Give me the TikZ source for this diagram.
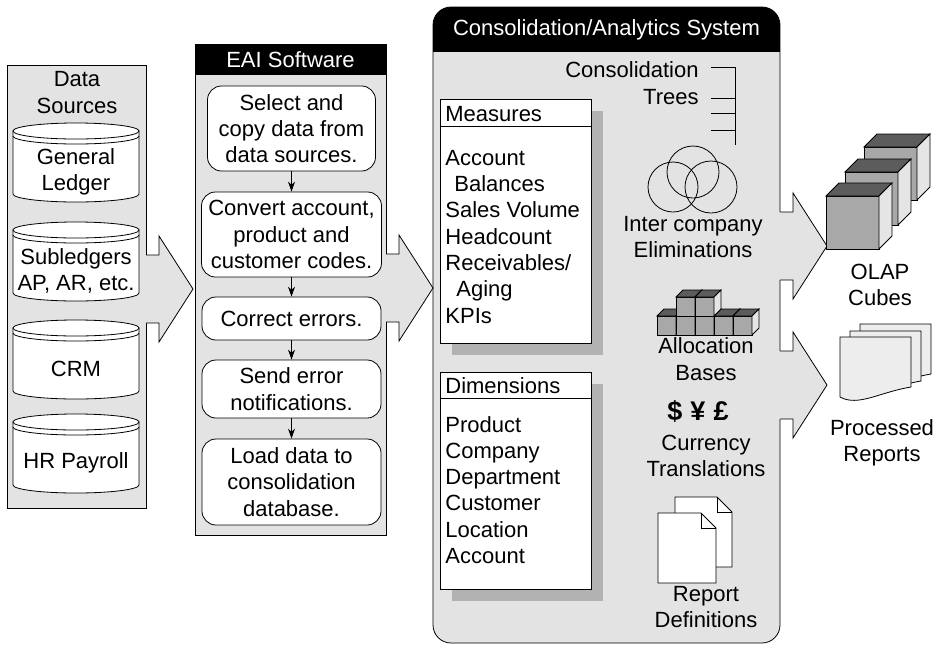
\documentclass[tikz,border=0pt]{standalone}
\usepackage{fontspec}
\setmainfont{Liberation Sans}
\usetikzlibrary{positioning,shadows,arrows.meta}

\definecolor{panelgray}{gray}{0.89}
\definecolor{shadowgray}{gray}{0.70}
\definecolor{cubefront}{gray}{0.66}
\definecolor{cubetop}{gray}{0.36}
\definecolor{cubeside}{gray}{0.90}
\definecolor{pagegray}{gray}{0.93}

\begin{document}
\begin{tikzpicture}[x=1pt, y=-1pt, line width=0.8pt,
  every node/.style={font=\fontsize{22}{26.3}\selectfont, inner sep=0pt},
  panel/.style={draw, fill=panelgray},
  stepbox/.style={draw, fill=white, rounded corners=14pt, align=center},
  steparrow/.style={-{Stealth[length=10pt, width=7pt]}},
  listbox/.style={draw, fill=white,
    general shadow={fill=shadowgray, shadow xshift=12pt, shadow yshift=-12pt}},
  caption/.style={align=center},
  pics/box3d/.style args={#1/#2}{code={
    \filldraw[fill=cubefront] (0,0) rectangle (#1,#1);
    \filldraw[fill=cubetop] (0,0) -- (#2,-#2) -- (#1+#2,-#2) -- (#1,0) -- cycle;
    \filldraw[fill=cubeside] (#1,0) -- (#1+#2,-#2) -- (#1+#2,#1-#2) -- (#1,#1) -- cycle;
  }},
  pics/sheet/.style args={#1/#2}{code={
    \filldraw[fill=white] (0,0) -- (#1-15,0) -- (#1,15) -- (#1,#2) -- (0,#2) -- cycle;
    \draw (#1-15,0) -- (#1-15,15) -- (#1,15);
  }},
  pics/printout/.style={code={
    \filldraw[fill=pagegray] (0,0) -- (71,0) -- (71,50) .. controls (40,55) and (18,70) .. (0,60) -- cycle;
  }}]

\useasboundingbox (0,0) rectangle (937,646);

% panels
\node[panel, minimum width=139pt, minimum height=443pt] (sources) at (76.5,286.5) {};
\node[panel, minimum width=191pt, minimum height=491pt] (eai) at (290.5,289.5) {};
\node[panel, rounded corners=18pt, minimum width=347pt, minimum height=636pt] (cons) at (606.5,325) {};

% panel titles
\node[caption] (sources-title) at (77,92.5) {Data\\Sources};
\fill (eai.north west) rectangle ([yshift=-31pt]eai.north east);
\node[text=white] (eai-title) at (290.5,60) {EAI Software};
\begin{scope}
  \clip[rounded corners=18pt] (433,7) rectangle (780,643);
  \fill (433,7) rectangle (780,52);
\end{scope}
\node[text=white] (cons-title) at (606.5,30) {Consolidation/Analytics System};

% block arrows between the panels
\foreach \x/\y in {146/289, 386/288, 780/246, 780/385} {
  \fill[panelgray] (\x-1,\y-34) -- ++(14,0) -- ++(0,-19) -- ++(34,53)
    -- ++(-34,53) -- ++(0,-19) -- ++(-14,0) -- cycle;
  \draw (\x,\y-34) -- ++(13,0) -- ++(0,-19) -- ++(34,53)
    -- ++(-34,53) -- ++(0,-19) -- ++(-13,0);
}

% data sources
\foreach \t/\top [count=\i] in {{General\\Ledger}/123, {Subledgers\\AP, AR, etc.}/222,
    {CRM}/320, {HR Payroll}/414} {
  \filldraw[fill=white] (13,\top+8) -- (13,\top+71)
    arc[start angle=180, end angle=0, x radius=63, y radius=8] -- (139,\top+8) -- cycle;
  \filldraw[fill=white] (76,\top+8) ellipse[x radius=63, y radius=8];
  \draw (13,\top+13) arc[start angle=180, end angle=0, x radius=63, y radius=8];
  \node[caption] (db-\i) at (76,\top+49) {\t};
}

% EAI steps
\foreach \t/\yc/\w/\h [count=\i] in {
    {Select and\\copy data from\\data sources.}/128.5/168/85,
    {Convert account,\\product and\\customer codes.}/234.5/180/85,
    {Correct errors.}/318.5/179/43,
    {Send error\\notifications.}/389/179/58,
    {Load data to\\consolidation\\database.}/482/179/86}
  \node[stepbox, minimum width=\w pt, minimum height=\h pt] (step-\i) at (291.5,\yc) {\t};

\foreach \i/\j in {1/2,2/3,3/4,4/5}
  \draw[steparrow] (step-\i) -- (step-\j);

% measures
\node[listbox, minimum width=151pt, minimum height=244pt] (measures) at (515.5,221) {};
\draw ([yshift=-28pt]measures.north west) -- ([yshift=-28pt]measures.north east);
\node[anchor=west] (measures-title) at (445,114) {Measures};
\foreach \t [count=\i] in {Account, \hspace{9pt}Balances, Sales Volume, Headcount,
    Receivables/, \hspace{11pt}Aging, KPIs}
  \node[anchor=base west] (measure-\i) at (445,139+26.3*\i) {\t};

% dimensions
\node[listbox, minimum width=151pt, minimum height=217pt] (dimensions) at (515.5,480.5) {};
\draw ([yshift=-27pt]dimensions.north west) -- ([yshift=-27pt]dimensions.north east);
\node[anchor=west] (dimensions-title) at (445,386) {Dimensions};
\foreach \t [count=\i] in {Product, Company, Department, Customer, Location, Account}
  \node[anchor=base west] (dimension-\i) at (445,405.7+26.3*\i) {\t};

% consolidation trees
\node[align=right, anchor=east] (trees) at (699,83) {Consolidation\\Trees};
\draw (711,67) -- (735,67) -- (735,145);
\foreach \y in {98,113,130}
  \draw (711,\y) -- (735,\y);

% eliminations
\draw (693,172) circle[radius=26];
\draw (673,187) circle[radius=25];
\draw (711,187) circle[radius=26];
\node[caption] (elim) at (693,237) {Inter company\\Eliminations};

% allocation bases
\foreach \i in {0,...,4}
  \pic at (657+19*\i,316) {box3d=19/7};
\foreach \i in {1,2}
  \pic at (657+19*\i,297) {box3d=19/7};
\node[caption] (alloc) at (706,359) {Allocation\\Bases};

% currency translations
\node[font=\fontsize{27}{30}\selectfont\bfseries] (money) at (698,411)
  {\$\hspace{0.3em}¥\hspace{0.3em}£};
\node[caption] (currency) at (706,456) {Currency\\Translations};

% report definitions
\pic at (675,497) {sheet=57/70};
\pic at (658,513) {sheet=58/70};
\node[caption] (repdef) at (706,607) {Report\\Definitions};

% OLAP cubes
\foreach \x/\y in {864/147, 845/172, 826/196}
  \pic at (\x,\y) {box3d=53/13};
\node[caption] (olap) at (880,285) {OLAP\\Cubes};

% processed reports
\foreach \x/\y in {860/324, 850/331, 840/337}
  \pic at (\x,\y) {printout};
\node[caption] (reports) at (882,443) {Processed\\Reports};

\end{tikzpicture}
\end{document}
